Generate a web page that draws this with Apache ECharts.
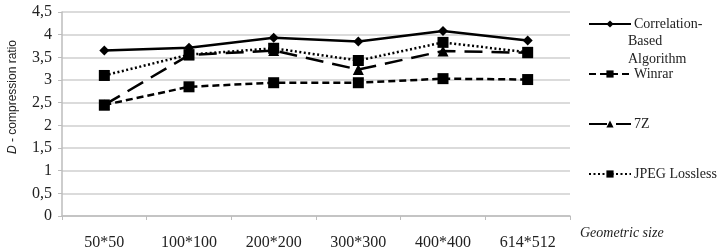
<!DOCTYPE html>
<html><head><meta charset="utf-8">
<script src="https://cdn.jsdelivr.net/npm/echarts@6/dist/echarts.min.js"></script>
<style>html,body{margin:0;padding:0;background:#fff}#c{width:717px;height:251px}</style>
</head><body><div id="c"></div>
<script>
var categories = ['50*50','100*100','200*200','300*300','400*400','614*512'];
var correlation = [3.65, 3.71, 3.93, 3.85, 4.08, 3.87];
var winrar = [2.45, 2.85, 2.94, 2.94, 3.03, 3.01];
var sevenZ = [2.45, 3.55, 3.65, 3.23, 3.64, 3.6];
var jpegLossless = [3.1, 3.56, 3.7, 3.43, 3.83, 3.61];
var yTicks = [0, 0.5, 1, 1.5, 2, 2.5, 3, 3.5, 4, 4.5];

var serif = '"Liberation Serif", "Times New Roman", serif';
var sans = '"Liberation Sans", Arial, sans-serif';
var chart = echarts.init(document.getElementById('c'));
function s(name, data, symbol, size, dash) {
  return {
    name: name, type: 'line', data: data, symbol: symbol, symbolSize: size,
    showSymbol: true,
    lineStyle: {color: '#000', width: 2.5, type: dash},
    itemStyle: {color: '#000'},
    animation: false
  };
}
chart.setOption({
  animation: false,
  grid: {left: 62, right: 147, top: 12, bottom: 33},
  xAxis: {
    type: 'category', data: categories, boundaryGap: true,
    axisLine: {lineStyle: {color: '#bdbdbd', width: 1.5}},
    axisTick: {show: true, length: 4, lineStyle: {color: '#bdbdbd'}},
    axisLabel: {fontFamily: serif, fontSize: 16, color: '#222', margin: 19}
  },
  yAxis: {
    type: 'value', min: yTicks[0], max: yTicks[yTicks.length - 1], interval: 0.5,
    axisLine: {show: true, lineStyle: {color: '#bdbdbd', width: 1.5}},
    axisTick: {show: true, length: 4, lineStyle: {color: '#bdbdbd'}},
    splitLine: {lineStyle: {color: '#cfcfcf', width: 1.5}},
    axisLabel: {fontFamily: serif, fontSize: 16, color: '#222', margin: 10,
      formatter: function (v) { return String(v).replace('.', ','); }}
  },
  legend: {
    orient: 'vertical', left: 583, top: 12, itemWidth: 42, itemHeight: 9,
    itemGap: 36,
    textStyle: {fontFamily: serif, fontSize: 14, color: '#222', lineHeight: 14, padding: [0, 0, 0, -2]},
    formatter: function (n) { return n === 'Correlation-Based Algorithm' ? 'Correlation-' : n; },
    data: ['Correlation-Based Algorithm', 'Winrar', '7Z', 'JPEG Lossless']
  },
  graphic: [
    {type: 'text', left: 628, top: 32, style: {text: 'Based\nAlgorithm', font: '14px ' + serif, fill: '#222', lineHeight: 18}},
    {type: 'text', left: 580, top: 226, style: {text: 'Geometric size', font: 'italic 14px ' + serif, fill: '#222'}},
    {type: 'text', x: 13, y: 97, rotation: Math.PI / 2,
      style: {rich: {i: {fontStyle: 'italic', fontFamily: sans, fontSize: 12, fill: '#222'},
                     n: {fontFamily: sans, fontSize: 12, fill: '#222'}},
              text: '{i|D}{n| - compression ratio}', align: 'center', verticalAlign: 'middle'}}
  ],
  series: [
    s('Correlation-Based Algorithm', correlation, 'diamond', 10, 'solid'),
    s('Winrar', winrar, 'rect', 11, [7, 4]),
    s('7Z', sevenZ, 'triangle', 11, [18, 9]),
    s('JPEG Lossless', jpegLossless, 'rect', 11, [2, 2.5])
  ]
});
</script></body></html>
